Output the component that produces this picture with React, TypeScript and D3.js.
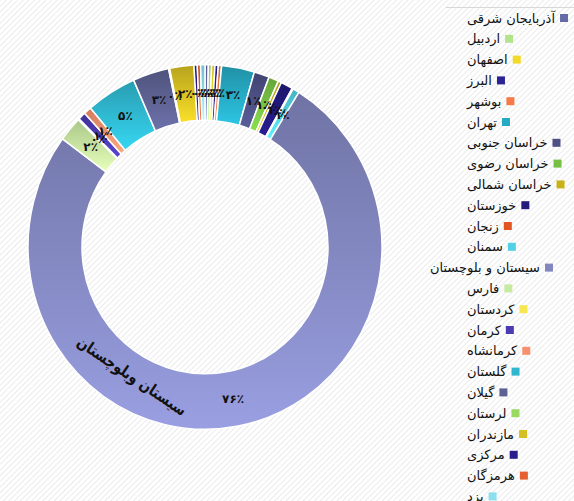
import React, { useEffect, useRef } from 'react'
import * as d3 from 'd3'

// provinces in sheet order (legend order, clockwise round the ring)
const provinces = [
  'آذربایجان شرقی', 'اردبیل', 'اصفهان', 'البرز', 'بوشهر', 'تهران',
  'خراسان جنوبی', 'خراسان رضوی', 'خراسان شمالی', 'خوزستان ', 'زنجان', 'سمنان',
  'سیستان و بلوچستان', 'فارس', 'کردستان', 'کرمان', 'کرمانشاه ', 'گلستان',
  'گیلان', 'لرستان', 'مازندران', 'مرکزی', 'هرمزگان', 'یزد',
]
const shares = [
  0.3, 0.3, 0.3, 0.3, 0.3, 3.0,
  1.4, 0.9, 0.3, 1.1, 0.1, 0.6,
  76.2, 2.2, 0.1, 0.7, 0.7, 4.6,
  3.3, 0.1, 2.2, 0.3, 0.3, 0.4,
]
const palette = [
  '#6569a6', '#b3e48c', '#f3d92a', '#2b2294', '#f57a48', '#26a9c2',
  '#4c5084', '#77c043', '#c9b11a', '#221a7c', '#e35423', '#52d0e6',
  '#8287c0', '#c6eba0', '#f6e650', '#4a3bb2', '#f7906e', '#2fb7cf',
  '#5d6192', '#99d962', '#d6bf22', '#2a1e8a', '#e65f30', '#8ae0ef',
]
const bigLabel = 'سیستان وبلوچستان'

const faPct = (n: number) =>
  String(n).replace(/\d/g, (d) => '۰۱۲۳۴۵۶۷۸۹'[+d]) + '٪'

export default function App() {
  const ref = useRef<SVGSVGElement>(null)

  useEffect(() => {
    const W = 574, H = 501
    const cx = 205, cy = 247
    const rOut = 177, rIn = 123
    const sy = 1.03 // the picture is stretched a little vertically
    const svg = d3.select(ref.current)
    svg.selectAll('*').remove()

    const defs = svg.append('defs')
    const pat = defs.append('pattern')
      .attr('id', 'bg')
      .attr('width', 4).attr('height', 4)
      .attr('patternUnits', 'userSpaceOnUse')
      .attr('patternTransform', 'rotate(45)')
    pat.append('rect').attr('width', 4).attr('height', 4).attr('fill', '#fff')
    pat.append('line')
      .attr('x1', 0).attr('y1', 0).attr('x2', 0).attr('y2', 4)
      .attr('stroke', '#e6e6e6').attr('stroke-width', 1.6)

    svg.append('rect').attr('width', W).attr('height', H).attr('fill', 'url(#bg)')

    palette.forEach((c, i) => {
      const g = defs.append('linearGradient')
        .attr('id', 'sl' + i)
        .attr('x1', 0).attr('y1', 0).attr('x2', 0).attr('y2', 1)
      g.append('stop').attr('offset', '0%').attr('stop-color', d3.color(c)!.darker(0.45).formatHex())
      g.append('stop').attr('offset', '100%').attr('stop-color', d3.color(c)!.brighter(0.45).formatHex())
    })

    const total = d3.sum(shares)
    const pie = d3.pie<number>().sort(null).value((d) => d)
    const arcs = pie(shares)
    const arc = d3.arc<d3.PieArcDatum<number>>().innerRadius(rIn).outerRadius(rOut)

    const ring = svg.append('g').attr('transform', `translate(${cx},${cy}) scale(1,${sy})`)
    ring.selectAll('path.slice')
      .data(arcs)
      .join('path')
      .attr('class', 'slice')
      .attr('d', arc)
      .attr('fill', (d, i) => `url(#sl${i})`)
      .attr('stroke', '#fff')
      .attr('stroke-width', 1.5)
      .attr('vector-effect', 'non-scaling-stroke')

    const labels = svg.append('g').attr('transform', `translate(${cx},${cy})`)
    labels.selectAll('text.pct')
      .data(arcs)
      .join('text')
      .attr('class', 'pct')
      .attr('transform', (d) => {
        const [x, y] = arc.centroid(d)
        return `translate(${x},${y * sy})`
      })
      .attr('text-anchor', 'middle')
      .attr('dominant-baseline', 'central')
      .style('font-family', 'DejaVu Sans')
      .style('font-size', '12px')
      .style('font-weight', 'bold')
      .attr('fill', '#111')
      .text((d) => faPct(Math.round((d.value / total) * 100)))

    // hand-placed category caption on the big slice
    svg.append('text')
      .attr('transform', 'translate(132,376) rotate(34)')
      .attr('text-anchor', 'middle')
      .attr('dominant-baseline', 'central')
      .attr('textLength', 128)
      .attr('lengthAdjust', 'spacingAndGlyphs')
      .style('font-family', 'DejaVu Sans')
      .style('font-size', '16px')
      .style('font-weight', 'bold')
      .attr('fill', '#111')
      .text(bigLabel)

    // legend (only its top edge shows)
    svg.append('line')
      .attr('x1', 446).attr('x2', W).attr('y1', 7.5).attr('y2', 7.5)
      .attr('stroke', '#d8d8d8')

    const leg = svg.append('g')
    const rows = leg.selectAll('g.row')
      .data(provinces)
      .join('g')
      .attr('class', 'row')
      .attr('transform', (d, i) => `translate(0,${18 + i * 20.8})`)
    rows.append('text')
      .attr('direction', 'rtl')
      .attr('text-anchor', 'end')
      .attr('dominant-baseline', 'central')
      .style('font-family', 'DejaVu Sans')
      .style('font-size', '13px')
      .attr('fill', '#111')
      .text((d) => d)
    rows.each(function (d, i) {
      const row = d3.select(this)
      const t = row.select<SVGTextElement>('text')
      const w = t.node()!.getComputedTextLength()
      // long names overflow to the left instead of pushing the key off the box
      let mx = Math.min(467 + w + 5, 562)
      if (467 + w + 5 > 580) mx = 545
      t.attr('x', mx - 5 - w)
      row.append('rect')
        .attr('x', mx).attr('y', -4)
        .attr('width', 8).attr('height', 8)
        .attr('fill', palette[i])
    })
  }, [])

  return (
    <svg
      ref={ref}
      width={574}
      height={501}
      style={{ position: 'absolute', left: 0, top: 0 }}
    />
  )
}
